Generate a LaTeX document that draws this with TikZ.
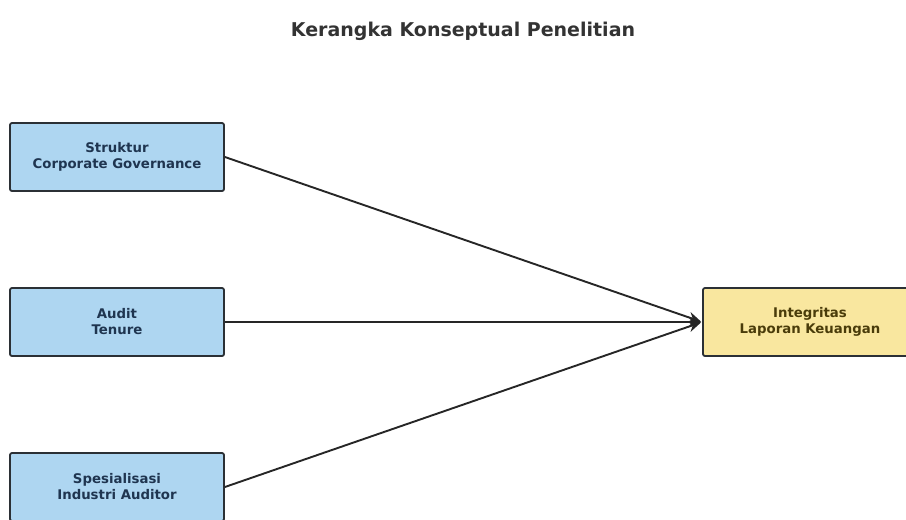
\documentclass[tikz,border=0pt]{standalone}
\usepackage{fontspec}
\setmainfont{DejaVu Sans}
\usepackage{tikz}
\usetikzlibrary{arrows.meta,calc,positioning}

\definecolor{varfill}{HTML}{AED6F1}
\definecolor{depfill}{HTML}{F9E79F}
\definecolor{boxline}{HTML}{2B3035}
\definecolor{vartext}{HTML}{1F3550}
\definecolor{deptext}{HTML}{4A3C0A}

\begin{document}
\begin{tikzpicture}[x=1pt,y=-1pt,>={Stealth[length=13pt,width=11pt]},
  varbox/.style={draw=boxline,line width=1.8pt,rounded corners=2pt,fill=varfill,text=vartext,
    minimum width=214pt,minimum height=68pt,align=center,font=\fontsize{13.3}{16}\selectfont\bfseries},
  depbox/.style={varbox,fill=depfill,text=deptext},
  link/.style={->,line width=1.9pt,draw=black!85,shorten >=1pt}]
\useasboundingbox (0,0) rectangle (906,520);
\clip (0,0) rectangle (906,520);
% title
\node[anchor=base,font=\fontsize{19}{22}\selectfont\bfseries,text=black!80] (title) at (463,36) {Kerangka Konseptual Penelitian};
% variables
\node[varbox] (struktur) at (117,157) {Struktur\\Corporate Governance};
\node[varbox] (tenure) at (117,322) {Audit\\Tenure};
\node[varbox] (spesialisasi) at (117,487) {Spesialisasi\\Industri Auditor};
\node[depbox] (integritas) at (810,322) {Integritas\\Laporan Keuangan};
% links
\draw[link] (struktur.east) -- (integritas.west);
\draw[link] (tenure.east) -- (integritas.west);
\draw[link] (spesialisasi.east) -- (integritas.west);
\end{tikzpicture}
\end{document}
